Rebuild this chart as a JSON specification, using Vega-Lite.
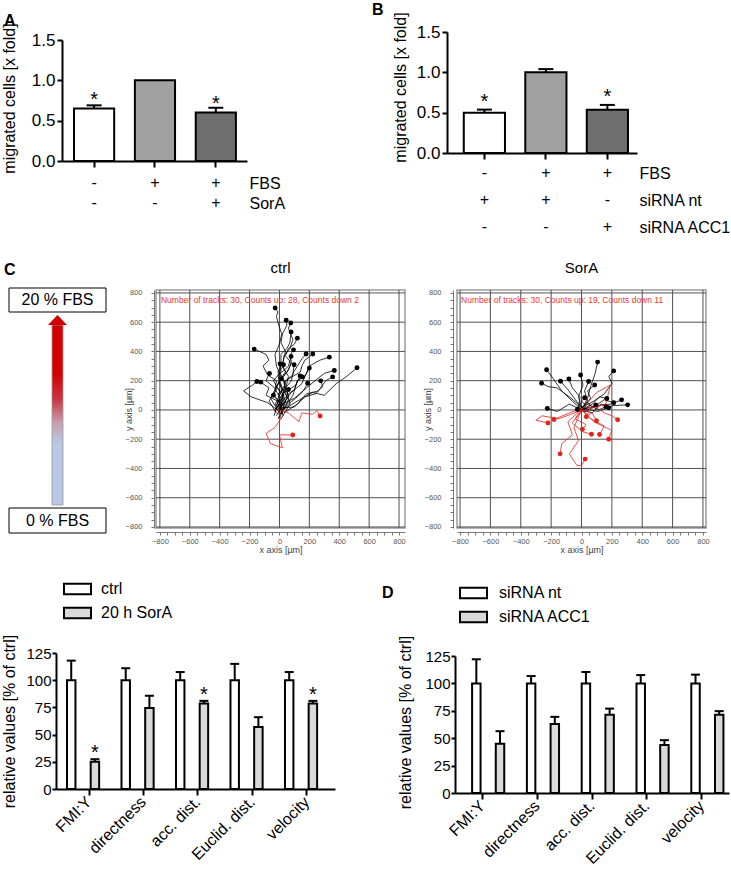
{
"$schema": "https://vega.github.io/schema/vega-lite/v6.json",
"autosize": {"type": "none"},
"padding": {"left": 9, "top": 32, "right": 722, "bottom": 839},
"background": "white",
"columns": 3,
"align": "each",
"bounds": "flush",
"spacing": {"row": 125, "column": 52},
"resolve": {"scale": {"fill": "independent", "color": "independent"}},
"config": {
  "view": {"stroke": null},
  "font": "Liberation Sans",
  "axis": {"grid": false, "labelOverlap": false, "labelFont": "Liberation Sans", "titleFont": "Liberation Sans"},
  "legend": {"labelFont": "Liberation Sans"},
  "text": {"font": "Liberation Sans"},
  "title": {"font": "Liberation Sans"}
},
"datasets": {
  "grid": [{"v":-800},{"v":-600},{"v":-400},{"v":-200},{"v":0},{"v":200},{"v":400},{"v":600},{"v":800}],
  "ctrl": [
{"t":1,"o":0,"x":-5,"y":-30,"d":"up"},{"t":1,"o":1,"x":15,"y":30,"d":"up"},{"t":1,"o":2,"x":-40,"y":100,"d":"up"},{"t":1,"o":3,"x":-15,"y":160,"d":"up"},{"t":1,"o":4,"x":10,"y":230,"d":"up"},{"t":1,"o":5,"x":-20,"y":300,"d":"up"},{"t":1,"o":6,"x":-30,"y":380,"d":"up"},{"t":1,"o":7,"x":0,"y":450,"d":"up"},{"t":1,"o":8,"x":15,"y":520,"d":"up"},{"t":1,"o":9,"x":-5,"y":580,"d":"up"},{"t":1,"o":10,"x":-20,"y":640,"d":"up"},{"t":1,"o":11,"x":-10,"y":670,"d":"up"},{"t":1,"o":12,"x":-29,"y":697,"d":"up","e":1},
{"t":2,"o":0,"x":10,"y":-10,"d":"up"},{"t":2,"o":1,"x":-15,"y":50,"d":"up"},{"t":2,"o":2,"x":30,"y":120,"d":"up"},{"t":2,"o":3,"x":5,"y":190,"d":"up"},{"t":2,"o":4,"x":-10,"y":260,"d":"up"},{"t":2,"o":5,"x":25,"y":330,"d":"up"},{"t":2,"o":6,"x":40,"y":400,"d":"up"},{"t":2,"o":7,"x":10,"y":460,"d":"up"},{"t":2,"o":8,"x":20,"y":520,"d":"up"},{"t":2,"o":9,"x":50,"y":580,"d":"up"},{"t":2,"o":10,"x":45,"y":613,"d":"up","e":1},
{"t":3,"o":0,"x":-20,"y":-40,"d":"up"},{"t":3,"o":1,"x":10,"y":20,"d":"up"},{"t":3,"o":2,"x":20,"y":90,"d":"up"},{"t":3,"o":3,"x":45,"y":160,"d":"up"},{"t":3,"o":4,"x":60,"y":230,"d":"up"},{"t":3,"o":5,"x":20,"y":300,"d":"up"},{"t":3,"o":6,"x":30,"y":370,"d":"up"},{"t":3,"o":7,"x":70,"y":420,"d":"up"},{"t":3,"o":8,"x":90,"y":480,"d":"up"},{"t":3,"o":9,"x":60,"y":560,"d":"up"},{"t":3,"o":10,"x":76,"y":594,"d":"up","e":1},
{"t":4,"o":0,"x":5,"y":0,"d":"up"},{"t":4,"o":1,"x":20,"y":70,"d":"up"},{"t":4,"o":2,"x":-30,"y":140,"d":"up"},{"t":4,"o":3,"x":0,"y":200,"d":"up"},{"t":4,"o":4,"x":40,"y":260,"d":"up"},{"t":4,"o":5,"x":10,"y":320,"d":"up"},{"t":4,"o":6,"x":10,"y":380,"d":"up"},{"t":4,"o":7,"x":50,"y":420,"d":"up"},{"t":4,"o":8,"x":70,"y":460,"d":"up"},{"t":4,"o":9,"x":78,"y":533,"d":"up","e":1},
{"t":5,"o":0,"x":-10,"y":-60,"d":"up"},{"t":5,"o":1,"x":20,"y":0,"d":"up"},{"t":5,"o":2,"x":40,"y":60,"d":"up"},{"t":5,"o":3,"x":15,"y":130,"d":"up"},{"t":5,"o":4,"x":0,"y":200,"d":"up"},{"t":5,"o":5,"x":50,"y":260,"d":"up"},{"t":5,"o":6,"x":80,"y":320,"d":"up"},{"t":5,"o":7,"x":40,"y":370,"d":"up"},{"t":5,"o":8,"x":60,"y":420,"d":"up"},{"t":5,"o":9,"x":100,"y":450,"d":"up"},{"t":5,"o":10,"x":120,"y":491,"d":"up","e":1},
{"t":6,"o":0,"x":0,"y":-20,"d":"up"},{"t":6,"o":1,"x":-30,"y":30,"d":"up"},{"t":6,"o":2,"x":-60,"y":80,"d":"up"},{"t":6,"o":3,"x":-30,"y":140,"d":"up"},{"t":6,"o":4,"x":-20,"y":200,"d":"up"},{"t":6,"o":5,"x":-80,"y":240,"d":"up"},{"t":6,"o":6,"x":-110,"y":300,"d":"up"},{"t":6,"o":7,"x":-70,"y":340,"d":"up"},{"t":6,"o":8,"x":-90,"y":380,"d":"up"},{"t":6,"o":9,"x":-169,"y":416,"d":"up","e":1},
{"t":7,"o":0,"x":15,"y":-30,"d":"up"},{"t":7,"o":1,"x":30,"y":40,"d":"up"},{"t":7,"o":2,"x":60,"y":100,"d":"up"},{"t":7,"o":3,"x":40,"y":160,"d":"up"},{"t":7,"o":4,"x":20,"y":220,"d":"up"},{"t":7,"o":5,"x":60,"y":270,"d":"up"},{"t":7,"o":6,"x":80,"y":330,"d":"up"},{"t":7,"o":7,"x":70,"y":370,"d":"up"},{"t":7,"o":8,"x":94,"y":411,"d":"up","e":1},
{"t":8,"o":0,"x":-15,"y":10,"d":"up"},{"t":8,"o":1,"x":10,"y":60,"d":"up"},{"t":8,"o":2,"x":30,"y":120,"d":"up"},{"t":8,"o":3,"x":0,"y":180,"d":"up"},{"t":8,"o":4,"x":-10,"y":240,"d":"up"},{"t":8,"o":5,"x":30,"y":270,"d":"up"},{"t":8,"o":6,"x":60,"y":300,"d":"up"},{"t":8,"o":7,"x":78,"y":366,"d":"up","e":1},
{"t":9,"o":0,"x":20,"y":-20,"d":"up"},{"t":9,"o":1,"x":5,"y":50,"d":"up"},{"t":9,"o":2,"x":-10,"y":110,"d":"up"},{"t":9,"o":3,"x":40,"y":150,"d":"up"},{"t":9,"o":4,"x":80,"y":200,"d":"up"},{"t":9,"o":5,"x":90,"y":250,"d":"up"},{"t":9,"o":6,"x":120,"y":300,"d":"up"},{"t":9,"o":7,"x":150,"y":350,"d":"up"},{"t":9,"o":8,"x":178,"y":382,"d":"up","e":1},
{"t":10,"o":0,"x":0,"y":-50,"d":"up"},{"t":10,"o":1,"x":30,"y":10,"d":"up"},{"t":10,"o":2,"x":60,"y":70,"d":"up"},{"t":10,"o":3,"x":30,"y":130,"d":"up"},{"t":10,"o":4,"x":40,"y":200,"d":"up"},{"t":10,"o":5,"x":90,"y":230,"d":"up"},{"t":10,"o":6,"x":140,"y":260,"d":"up"},{"t":10,"o":7,"x":150,"y":300,"d":"up"},{"t":10,"o":8,"x":170,"y":340,"d":"up"},{"t":10,"o":9,"x":223,"y":382,"d":"up","e":1},
{"t":11,"o":0,"x":10,"y":20,"d":"up"},{"t":11,"o":1,"x":80,"y":120,"d":"up"},{"t":11,"o":2,"x":150,"y":180,"d":"up"},{"t":11,"o":3,"x":200,"y":300,"d":"up"},{"t":11,"o":4,"x":270,"y":340,"d":"up"},{"t":11,"o":5,"x":334,"y":361,"d":"up","e":1},
{"t":12,"o":0,"x":-30,"y":-10,"d":"up"},{"t":12,"o":1,"x":20,"y":90,"d":"up"},{"t":12,"o":2,"x":-40,"y":200,"d":"up"},{"t":12,"o":3,"x":10,"y":260,"d":"up"},{"t":12,"o":4,"x":4,"y":315,"d":"up","e":1},
{"t":13,"o":0,"x":25,"y":-40,"d":"up"},{"t":13,"o":1,"x":-10,"y":80,"d":"up"},{"t":13,"o":2,"x":40,"y":180,"d":"up"},{"t":13,"o":3,"x":0,"y":260,"d":"up"},{"t":13,"o":4,"x":27,"y":309,"d":"up","e":1},
{"t":14,"o":0,"x":-5,"y":-10,"d":"up"},{"t":14,"o":1,"x":50,"y":80,"d":"up"},{"t":14,"o":2,"x":30,"y":190,"d":"up"},{"t":14,"o":3,"x":90,"y":240,"d":"up"},{"t":14,"o":4,"x":98,"y":309,"d":"up","e":1},
{"t":15,"o":0,"x":30,"y":10,"d":"up"},{"t":15,"o":1,"x":90,"y":100,"d":"up"},{"t":15,"o":2,"x":120,"y":200,"d":"up"},{"t":15,"o":3,"x":170,"y":230,"d":"up"},{"t":15,"o":4,"x":200,"y":286,"d":"up","e":1},
{"t":16,"o":0,"x":0,"y":30,"d":"up"},{"t":16,"o":1,"x":100,"y":80,"d":"up"},{"t":16,"o":2,"x":180,"y":150,"d":"up"},{"t":16,"o":3,"x":250,"y":210,"d":"up"},{"t":16,"o":4,"x":300,"y":250,"d":"up"},{"t":16,"o":5,"x":367,"y":270,"d":"up","e":1},
{"t":17,"o":0,"x":20,"y":0,"d":"up"},{"t":17,"o":1,"x":120,"y":60,"d":"up"},{"t":17,"o":2,"x":220,"y":120,"d":"up"},{"t":17,"o":3,"x":300,"y":100,"d":"up"},{"t":17,"o":4,"x":380,"y":180,"d":"up"},{"t":17,"o":5,"x":450,"y":230,"d":"up"},{"t":17,"o":6,"x":519,"y":288,"d":"up","e":1},
{"t":18,"o":0,"x":-20,"y":-20,"d":"up"},{"t":18,"o":1,"x":-70,"y":60,"d":"up"},{"t":18,"o":2,"x":-20,"y":140,"d":"up"},{"t":18,"o":3,"x":-90,"y":200,"d":"up"},{"t":18,"o":4,"x":-67,"y":249,"d":"up","e":1},
{"t":19,"o":0,"x":10,"y":-60,"d":"up"},{"t":19,"o":1,"x":70,"y":40,"d":"up"},{"t":19,"o":2,"x":50,"y":130,"d":"up"},{"t":19,"o":3,"x":110,"y":170,"d":"up"},{"t":19,"o":4,"x":138,"y":233,"d":"up","e":1},
{"t":20,"o":0,"x":-10,"y":20,"d":"up"},{"t":20,"o":1,"x":60,"y":110,"d":"up"},{"t":20,"o":2,"x":100,"y":140,"d":"up"},{"t":20,"o":3,"x":120,"y":200,"d":"up"},{"t":20,"o":4,"x":154,"y":226,"d":"up","e":1},
{"t":21,"o":0,"x":30,"y":-20,"d":"up"},{"t":21,"o":1,"x":120,"y":40,"d":"up"},{"t":21,"o":2,"x":180,"y":110,"d":"up"},{"t":21,"o":3,"x":260,"y":130,"d":"up"},{"t":21,"o":4,"x":310,"y":200,"d":"up"},{"t":21,"o":5,"x":356,"y":226,"d":"up","e":1},
{"t":22,"o":0,"x":-25,"y":30,"d":"up"},{"t":22,"o":1,"x":30,"y":100,"d":"up"},{"t":22,"o":2,"x":-20,"y":160,"d":"up"},{"t":22,"o":3,"x":13,"y":213,"d":"up","e":1},
{"t":23,"o":0,"x":0,"y":-10,"d":"up"},{"t":23,"o":1,"x":-80,"y":50,"d":"up"},{"t":23,"o":2,"x":-190,"y":90,"d":"up"},{"t":23,"o":3,"x":-240,"y":130,"d":"up"},{"t":23,"o":4,"x":-180,"y":170,"d":"up"},{"t":23,"o":5,"x":-151,"y":194,"d":"up","e":1},
{"t":24,"o":0,"x":-35,"y":-40,"d":"up"},{"t":24,"o":1,"x":-10,"y":60,"d":"up"},{"t":24,"o":2,"x":-90,"y":100,"d":"up"},{"t":24,"o":3,"x":-70,"y":150,"d":"up"},{"t":24,"o":4,"x":-125,"y":190,"d":"up","e":1},
{"t":25,"o":0,"x":15,"y":15,"d":"up"},{"t":25,"o":1,"x":100,"y":20,"d":"up"},{"t":25,"o":2,"x":170,"y":90,"d":"up"},{"t":25,"o":3,"x":240,"y":110,"d":"up"},{"t":25,"o":4,"x":290,"y":160,"d":"up"},{"t":25,"o":5,"x":276,"y":199,"d":"up","e":1},
{"t":26,"o":0,"x":0,"y":-30,"d":"up"},{"t":26,"o":1,"x":60,"y":40,"d":"up"},{"t":26,"o":2,"x":120,"y":90,"d":"up"},{"t":26,"o":3,"x":160,"y":130,"d":"up"},{"t":26,"o":4,"x":189,"y":183,"d":"up","e":1},
{"t":27,"o":0,"x":-5,"y":5,"d":"up"},{"t":27,"o":1,"x":30,"y":60,"d":"up"},{"t":27,"o":2,"x":20,"y":110,"d":"up"},{"t":27,"o":3,"x":60,"y":140,"d":"up","e":1},
{"t":28,"o":0,"x":10,"y":-10,"d":"up"},{"t":28,"o":1,"x":-30,"y":40,"d":"up"},{"t":28,"o":2,"x":-10,"y":70,"d":"up"},{"t":28,"o":3,"x":-40,"y":100,"d":"up","e":1},
{"t":29,"o":0,"x":0,"y":0,"d":"down"},{"t":29,"o":1,"x":60,"y":-20,"d":"down"},{"t":29,"o":2,"x":130,"y":-80,"d":"down"},{"t":29,"o":3,"x":150,"y":-20,"d":"down"},{"t":29,"o":4,"x":220,"y":-30,"d":"down"},{"t":29,"o":5,"x":250,"y":-5,"d":"down"},{"t":29,"o":6,"x":272,"y":-41,"d":"down","e":1},
{"t":30,"o":0,"x":-10,"y":10,"d":"down"},{"t":30,"o":1,"x":10,"y":-60,"d":"down"},{"t":30,"o":2,"x":-30,"y":-120,"d":"down"},{"t":30,"o":3,"x":-90,"y":-160,"d":"down"},{"t":30,"o":4,"x":-60,"y":-230,"d":"down"},{"t":30,"o":5,"x":20,"y":-260,"d":"down"},{"t":30,"o":6,"x":0,"y":-170,"d":"down"},{"t":30,"o":7,"x":89,"y":-171,"d":"down","e":1}
  ],
  "sora": [
{"t":1,"o":0,"x":0,"y":0,"d":"up"},{"t":1,"o":1,"x":40,"y":80,"d":"up"},{"t":1,"o":2,"x":60,"y":160,"d":"up"},{"t":1,"o":3,"x":90,"y":250,"d":"up"},{"t":1,"o":4,"x":106,"y":327,"d":"up","e":1},
{"t":2,"o":0,"x":10,"y":-10,"d":"up"},{"t":2,"o":1,"x":-60,"y":60,"d":"up"},{"t":2,"o":2,"x":-130,"y":130,"d":"up"},{"t":2,"o":3,"x":-190,"y":220,"d":"up"},{"t":2,"o":4,"x":-230,"y":275,"d":"up","e":1},
{"t":3,"o":0,"x":-10,"y":10,"d":"up"},{"t":3,"o":1,"x":80,"y":60,"d":"up"},{"t":3,"o":2,"x":150,"y":110,"d":"up"},{"t":3,"o":3,"x":200,"y":180,"d":"up"},{"t":3,"o":4,"x":180,"y":230,"d":"up"},{"t":3,"o":5,"x":212,"y":267,"d":"up","e":1},
{"t":4,"o":0,"x":0,"y":20,"d":"up"},{"t":4,"o":1,"x":-80,"y":90,"d":"up"},{"t":4,"o":2,"x":-160,"y":150,"d":"up"},{"t":4,"o":3,"x":-220,"y":160,"d":"up"},{"t":4,"o":4,"x":-263,"y":183,"d":"up","e":1},
{"t":5,"o":0,"x":20,"y":-5,"d":"up"},{"t":5,"o":1,"x":-40,"y":70,"d":"up"},{"t":5,"o":2,"x":-90,"y":140,"d":"up"},{"t":5,"o":3,"x":-138,"y":196,"d":"up","e":1},
{"t":6,"o":0,"x":-20,"y":0,"d":"up"},{"t":6,"o":1,"x":-10,"y":90,"d":"up"},{"t":6,"o":2,"x":-60,"y":150,"d":"up"},{"t":6,"o":3,"x":-83,"y":212,"d":"up","e":1},
{"t":7,"o":0,"x":5,"y":5,"d":"up"},{"t":7,"o":1,"x":-20,"y":90,"d":"up"},{"t":7,"o":2,"x":10,"y":170,"d":"up"},{"t":7,"o":3,"x":-6,"y":239,"d":"up","e":1},
{"t":8,"o":0,"x":-10,"y":-10,"d":"up"},{"t":8,"o":1,"x":40,"y":60,"d":"up"},{"t":8,"o":2,"x":20,"y":130,"d":"up"},{"t":8,"o":3,"x":47,"y":194,"d":"up","e":1},
{"t":9,"o":0,"x":10,"y":10,"d":"up"},{"t":9,"o":1,"x":60,"y":80,"d":"up"},{"t":9,"o":2,"x":40,"y":130,"d":"up"},{"t":9,"o":3,"x":87,"y":171,"d":"up","e":1},
{"t":10,"o":0,"x":-5,"y":-20,"d":"up"},{"t":10,"o":1,"x":30,"y":30,"d":"up"},{"t":10,"o":2,"x":0,"y":60,"d":"up"},{"t":10,"o":3,"x":21,"y":83,"d":"up","e":1},
{"t":11,"o":0,"x":0,"y":0,"d":"up"},{"t":11,"o":1,"x":70,"y":40,"d":"up"},{"t":11,"o":2,"x":120,"y":90,"d":"up"},{"t":11,"o":3,"x":167,"y":78,"d":"up","e":1},
{"t":12,"o":0,"x":15,"y":-15,"d":"up"},{"t":12,"o":1,"x":100,"y":30,"d":"up"},{"t":12,"o":2,"x":190,"y":40,"d":"up"},{"t":12,"o":3,"x":264,"y":69,"d":"up","e":1},
{"t":13,"o":0,"x":0,"y":10,"d":"up"},{"t":13,"o":1,"x":110,"y":-10,"d":"up"},{"t":13,"o":2,"x":210,"y":30,"d":"up"},{"t":13,"o":3,"x":304,"y":35,"d":"up","e":1},
{"t":14,"o":0,"x":-15,"y":0,"d":"up"},{"t":14,"o":1,"x":80,"y":20,"d":"up"},{"t":14,"o":2,"x":150,"y":70,"d":"up"},{"t":14,"o":3,"x":212,"y":49,"d":"up","e":1},
{"t":15,"o":0,"x":5,"y":-5,"d":"up"},{"t":15,"o":1,"x":60,"y":30,"d":"up"},{"t":15,"o":2,"x":110,"y":0,"d":"up"},{"t":15,"o":3,"x":161,"y":21,"d":"up","e":1},
{"t":16,"o":0,"x":-10,"y":5,"d":"up"},{"t":16,"o":1,"x":70,"y":-20,"d":"up"},{"t":16,"o":2,"x":130,"y":40,"d":"up"},{"t":16,"o":3,"x":179,"y":15,"d":"up","e":1},
{"t":17,"o":0,"x":0,"y":0,"d":"up"},{"t":17,"o":1,"x":-80,"y":40,"d":"up"},{"t":17,"o":2,"x":-160,"y":-10,"d":"up"},{"t":17,"o":3,"x":-225,"y":10,"d":"up","e":1},
{"t":18,"o":0,"x":10,"y":-10,"d":"up"},{"t":18,"o":1,"x":-20,"y":30,"d":"up"},{"t":18,"o":2,"x":-27,"y":3,"d":"up","e":1},
{"t":19,"o":0,"x":0,"y":15,"d":"up"},{"t":19,"o":1,"x":40,"y":50,"d":"up"},{"t":19,"o":2,"x":70,"y":20,"d":"up"},{"t":19,"o":3,"x":94,"y":35,"d":"up","e":1},
{"t":20,"o":0,"x":0,"y":0,"d":"down"},{"t":20,"o":1,"x":-70,"y":-30,"d":"down"},{"t":20,"o":2,"x":-150,"y":-60,"d":"down"},{"t":20,"o":3,"x":-260,"y":-40,"d":"down"},{"t":20,"o":4,"x":-300,"y":-70,"d":"down"},{"t":20,"o":5,"x":-221,"y":-89,"d":"down","e":1},
{"t":21,"o":0,"x":10,"y":-10,"d":"down"},{"t":21,"o":1,"x":80,"y":30,"d":"down"},{"t":21,"o":2,"x":150,"y":-20,"d":"down"},{"t":21,"o":3,"x":200,"y":-40,"d":"down"},{"t":21,"o":4,"x":238,"y":-67,"d":"down","e":1},
{"t":22,"o":0,"x":-10,"y":10,"d":"down"},{"t":22,"o":1,"x":40,"y":-40,"d":"down"},{"t":22,"o":2,"x":70,"y":-20,"d":"down"},{"t":22,"o":3,"x":99,"y":-74,"d":"down","e":1},
{"t":23,"o":0,"x":5,"y":5,"d":"down"},{"t":23,"o":1,"x":100,"y":120,"d":"down"},{"t":23,"o":2,"x":190,"y":170,"d":"down"},{"t":23,"o":3,"x":160,"y":40,"d":"down"},{"t":23,"o":4,"x":60,"y":10,"d":"down"},{"t":23,"o":5,"x":32,"y":-46,"d":"down","e":1},
{"t":24,"o":0,"x":0,"y":-10,"d":"down"},{"t":24,"o":1,"x":-40,"y":-60,"d":"down"},{"t":24,"o":2,"x":30,"y":-100,"d":"down"},{"t":24,"o":3,"x":6,"y":-132,"d":"down","e":1},
{"t":25,"o":0,"x":-5,"y":0,"d":"down"},{"t":25,"o":1,"x":-60,"y":-90,"d":"down"},{"t":25,"o":2,"x":10,"y":-150,"d":"down"},{"t":25,"o":3,"x":66,"y":-166,"d":"down","e":1},
{"t":26,"o":0,"x":10,"y":0,"d":"down"},{"t":26,"o":1,"x":60,"y":-60,"d":"down"},{"t":26,"o":2,"x":150,"y":-110,"d":"down"},{"t":26,"o":3,"x":119,"y":-168,"d":"down","e":1},
{"t":27,"o":0,"x":0,"y":5,"d":"down"},{"t":27,"o":1,"x":80,"y":-80,"d":"down"},{"t":27,"o":2,"x":200,"y":-140,"d":"down"},{"t":27,"o":3,"x":179,"y":-200,"d":"down","e":1},
{"t":28,"o":0,"x":-10,"y":-5,"d":"down"},{"t":28,"o":1,"x":-90,"y":-80,"d":"down"},{"t":28,"o":2,"x":-60,"y":-170,"d":"down"},{"t":28,"o":3,"x":-130,"y":-230,"d":"down"},{"t":28,"o":4,"x":-141,"y":-300,"d":"down","e":1},
{"t":29,"o":0,"x":0,"y":0,"d":"down"},{"t":29,"o":1,"x":-50,"y":-120,"d":"down"},{"t":29,"o":2,"x":-20,"y":-210,"d":"down"},{"t":29,"o":3,"x":-80,"y":-300,"d":"down"},{"t":29,"o":4,"x":-30,"y":-380,"d":"down"},{"t":29,"o":5,"x":0,"y":-380,"d":"down"},{"t":29,"o":6,"x":24,"y":-336,"d":"down","e":1},
{"t":30,"o":0,"x":5,"y":10,"d":"down"},{"t":30,"o":1,"x":-80,"y":-20,"d":"down"},{"t":30,"o":2,"x":-181,"y":-65,"d":"down","e":1}
  ]
},
"concat": [
{
  "width": 1, "height": 133,
  "data": {"values": []},
  "mark": "point"
},
{
  "width": 91, "height": 129,
  "title": {"text": "A", "anchor": "start", "frame": "group", "dx": -152, "offset": -19, "fontSize": 16, "fontWeight": "bold", "baseline": "alphabetic", "color": "black"},
  "layer": [
    {
      "data": {"values": [
        {"cond": "1", "value": 0.65, "upper": 0.69, "star": 0.82},
        {"cond": "2", "value": 1.0},
        {"cond": "3", "value": 0.60, "upper": 0.66, "star": 0.765}
      ]},
      "layer": [
        {"mark": {"type": "bar", "stroke": "black", "strokeWidth": 2},
         "encoding": {
           "x": {"field": "cond", "type": "nominal", "title": null, "scale": {"range": [-94, 91], "paddingInner": 0.34, "paddingOuter": 0.19, "align": 0.52}, "axis": {"labels": false, "tickSize": 6, "tickWidth": 2, "tickColor": "black", "domainColor": "black", "domainWidth": 2}},
           "y": {"field": "value", "type": "quantitative", "title": "migrated cells [x fold]", "scale": {"domain": [0, 1.5], "range": [129, 8], "nice": false}, "axis": {"values": [0, 0.5, 1, 1.5], "tickCount": 20, "format": ".1f", "offset": 94, "tickSize": 5, "tickWidth": 2, "tickColor": "black", "domainColor": "black", "domainWidth": 2, "labelFontSize": 17, "labelColor": "black", "labelPadding": 2, "titleFontSize": 16, "titleFontWeight": "normal", "titleColor": "black", "titleX": -45, "titleY": 66, "labelFlush": false}},
           "fill": {"field": "cond", "type": "nominal", "scale": {"domain": ["1", "2", "3"], "range": ["#ffffff", "#a1a1a1", "#6f6f6f"]}, "legend": null}
         }},
        {"transform": [{"filter": "datum.upper != null"}],
         "mark": {"type": "rule", "color": "black", "strokeWidth": 2},
         "encoding": {"x": {"field": "cond", "type": "nominal", "title": null}, "y": {"field": "value", "type": "quantitative", "title": "migrated cells [x fold]"}, "y2": {"field": "upper"}}},
        {"transform": [{"filter": "datum.upper != null"}],
         "mark": {"type": "tick", "orient": "horizontal", "size": 15, "thickness": 2, "color": "black", "opacity": 1},
         "encoding": {"x": {"field": "cond", "type": "nominal", "title": null}, "y": {"field": "upper", "type": "quantitative", "title": "migrated cells [x fold]"}}},
        {"transform": [{"filter": "datum.star != null"}],
         "mark": {"type": "text", "text": "*", "fontSize": 20, "dy": 11, "baseline": "alphabetic", "color": "black"},
         "encoding": {"x": {"field": "cond", "type": "nominal", "title": null}, "y": {"field": "star", "type": "quantitative", "title": "migrated cells [x fold]"}}}
      ]
    },
    {
      "data": {"values": [
        {"cond": "1", "row": "FBS", "sign": "-"}, {"cond": "2", "row": "FBS", "sign": "+"}, {"cond": "3", "row": "FBS", "sign": "+"},
        {"cond": "1", "row": "SorA", "sign": "-"}, {"cond": "2", "row": "SorA", "sign": "-"}, {"cond": "3", "row": "SorA", "sign": "+"}
      ]},
      "mark": {"type": "text", "fontSize": 16, "color": "black"},
      "encoding": {
        "x": {"field": "cond", "type": "nominal", "title": null},
        "y": {"field": "row", "type": "ordinal", "sort": ["FBS", "SorA"], "scale": {"type": "point", "range": [151, 171], "padding": 0}, "axis": {"orient": "right", "title": null, "domain": false, "ticks": false, "labelPadding": 2, "labelFontSize": 16, "labelColor": "black"}},
        "text": {"field": "sign"}
      }
    }
  ],
  "resolve": {"scale": {"y": "independent"}, "axis": {"y": "independent"}}
},
{
  "width": 180, "height": 121,
  "title": {"text": "B", "anchor": "start", "frame": "group", "dx": -85, "offset": -19, "fontSize": 16, "fontWeight": "bold", "baseline": "alphabetic", "color": "black"},
  "layer": [
    {
      "data": {"values": [
        {"cond": "1", "value": 0.50, "upper": 0.538, "star": 0.69},
        {"cond": "2", "value": 1.0, "upper": 1.04},
        {"cond": "3", "value": 0.535, "upper": 0.596, "star": 0.752}
      ]},
      "layer": [
        {"mark": {"type": "bar", "stroke": "black", "strokeWidth": 2},
         "encoding": {
           "x": {"field": "cond", "type": "nominal", "title": null, "scale": {"range": [-10, 180], "paddingInner": 0.33, "paddingOuter": 0.21, "align": 0.65}, "axis": {"labels": false, "tickSize": 6, "tickWidth": 2, "tickColor": "black", "domainColor": "black", "domainWidth": 2}},
           "y": {"field": "value", "type": "quantitative", "title": "migrated cells [x fold]", "scale": {"domain": [0, 1.5], "nice": false}, "axis": {"values": [0, 0.5, 1, 1.5], "tickCount": 20, "format": ".1f", "offset": 10, "tickSize": 5, "tickWidth": 2, "tickColor": "black", "domainColor": "black", "domainWidth": 2, "labelFontSize": 17, "labelColor": "black", "labelPadding": 2, "titleFontSize": 16, "titleFontWeight": "normal", "titleColor": "black", "titleX": -39, "titleY": 55, "labelFlush": false}},
           "fill": {"field": "cond", "type": "nominal", "scale": {"domain": ["1", "2", "3"], "range": ["#ffffff", "#a1a1a1", "#6f6f6f"]}, "legend": null}
         }},
        {"transform": [{"filter": "datum.upper != null"}],
         "mark": {"type": "rule", "color": "black", "strokeWidth": 2},
         "encoding": {"x": {"field": "cond", "type": "nominal", "title": null}, "y": {"field": "value", "type": "quantitative", "title": "migrated cells [x fold]"}, "y2": {"field": "upper"}}},
        {"transform": [{"filter": "datum.upper != null"}],
         "mark": {"type": "tick", "orient": "horizontal", "size": 15, "thickness": 2, "color": "black", "opacity": 1},
         "encoding": {"x": {"field": "cond", "type": "nominal", "title": null}, "y": {"field": "upper", "type": "quantitative", "title": "migrated cells [x fold]"}}},
        {"transform": [{"filter": "datum.star != null"}],
         "mark": {"type": "text", "text": "*", "fontSize": 20, "dy": 11, "baseline": "alphabetic", "color": "black"},
         "encoding": {"x": {"field": "cond", "type": "nominal", "title": null}, "y": {"field": "star", "type": "quantitative", "title": "migrated cells [x fold]"}}}
      ]
    },
    {
      "data": {"values": [
        {"cond": "1", "row": "FBS", "sign": "-"}, {"cond": "2", "row": "FBS", "sign": "+"}, {"cond": "3", "row": "FBS", "sign": "+"},
        {"cond": "1", "row": "siRNA nt", "sign": "+"}, {"cond": "2", "row": "siRNA nt", "sign": "+"}, {"cond": "3", "row": "siRNA nt", "sign": "-"},
        {"cond": "1", "row": "siRNA ACC1", "sign": "-"}, {"cond": "2", "row": "siRNA ACC1", "sign": "-"}, {"cond": "3", "row": "siRNA ACC1", "sign": "+"}
      ]},
      "mark": {"type": "text", "fontSize": 16, "color": "black"},
      "encoding": {
        "x": {"field": "cond", "type": "nominal", "title": null},
        "y": {"field": "row", "type": "ordinal", "sort": ["FBS", "siRNA nt", "siRNA ACC1"], "scale": {"type": "point", "range": [141, 195], "padding": 0}, "axis": {"orient": "right", "title": null, "domain": false, "ticks": false, "labelPadding": 2, "labelFontSize": 16, "labelColor": "black"}},
        "text": {"field": "sign"}
      }
    }
  ],
  "resolve": {"scale": {"y": "independent"}, "axis": {"y": "independent"}}
},
{
  "width": 95, "height": 220,
  "title": {"text": "C", "anchor": "start", "frame": "group", "dx": -5, "offset": -3.5, "fontSize": 16, "fontWeight": "bold", "baseline": "alphabetic", "color": "black"},
  "data": {"values": [
    {"part": "box", "x1": 0, "x2": 97, "y1": 0, "y2": 24, "label": "20 % FBS", "lx": 48.5, "ly": 12},
    {"part": "box", "x1": 0, "x2": 97, "y1": 220, "y2": 245, "label": "0 % FBS", "lx": 48.5, "ly": 232.5},
    {"part": "shaft", "x1": 43, "x2": 54, "y1": 37, "y2": 217},
    {"part": "head", "lx": 48.5, "ly": 32}
  ]},
  "layer": [
    {"transform": [{"filter": "datum.part == 'box'"}],
     "mark": {"type": "rect", "fill": "white", "stroke": "black", "strokeWidth": 1},
     "encoding": {
       "x": {"field": "x1", "type": "quantitative", "scale": {"domain": [0, 97], "range": [0, 97], "nice": false, "zero": false}, "axis": null},
       "x2": {"field": "x2"},
       "y": {"field": "y1", "type": "quantitative", "scale": {"domain": [0, 245], "range": [-2, 243], "nice": false, "zero": false}, "axis": null},
       "y2": {"field": "y2"}
     }},
    {"transform": [{"filter": "datum.part == 'shaft'"}],
     "mark": {"type": "rect", "stroke": "#9a9a9a", "strokeWidth": 0.8,
       "fill": {"gradient": "linear", "x1": 0, "y1": 0, "x2": 0, "y2": 1, "stops": [
         {"offset": 0, "color": "#d40000"}, {"offset": 0.27, "color": "#d40000"}, {"offset": 0.42, "color": "#c93a48"},
         {"offset": 0.55, "color": "#c9a2b2"}, {"offset": 0.66, "color": "#b8c8e5"}, {"offset": 1, "color": "#b8c9e6"}]}},
     "encoding": {
       "x": {"field": "x1", "type": "quantitative"},
       "x2": {"field": "x2"},
       "y": {"field": "y1", "type": "quantitative"},
       "y2": {"field": "y2"}
     }},
    {"transform": [{"filter": "datum.part == 'head'"}],
     "mark": {"type": "point", "shape": "M0,-0.53L1,0.53L-1,0.53Z", "size": 361, "filled": true, "color": "#d40000", "opacity": 1},
     "encoding": {"x": {"field": "lx", "type": "quantitative"}, "y": {"field": "ly", "type": "quantitative"}}},
    {"transform": [{"filter": "datum.part == 'box'"}],
     "mark": {"type": "text", "fontSize": 16, "color": "black", "baseline": "middle", "align": "center"},
     "encoding": {"x": {"field": "lx", "type": "quantitative"}, "y": {"field": "ly", "type": "quantitative"}, "text": {"field": "label"}}}
  ]
},
{
  "width": 249, "height": 238,
  "view": {"stroke": "#9b9b9b", "strokeWidth": 1.5},
  "title": {"text": "ctrl", "fontSize": 15, "fontWeight": "normal", "anchor": "middle", "frame": "group", "offset": 1, "baseline": "alphabetic", "color": "black"},
  "layer": [
    {"data": {"name": "grid"},
     "mark": {"type": "rule", "color": "#505050", "strokeWidth": 1},
     "encoding": {"x": {"field": "v", "type": "quantitative", "scale": {"domain": [-826, 840], "nice": false, "zero": false},
       "axis": {"title": "x axis [µm]", "values": [-800,-750,-700,-650,-600,-550,-500,-450,-400,-350,-300,-250,-200,-150,-100,-50,0,50,100,150,200,250,300,350,400,450,500,550,600,650,700,750,800], "tickCount": 100, "labelExpr": "datum.value % 200 === 0 ? datum.label : ''", "offset": 4, "tickSize": 3, "tickColor": "#777", "domainColor": "#777", "labelFontSize": 7.5, "labelColor": "#555", "labelPadding": 2, "titleFontSize": 9, "titleColor": "#444", "titleFontWeight": "normal", "titlePadding": 1, "labelFlush": false, "labelOverlap": false}}}},
    {"data": {"name": "grid"},
     "mark": {"type": "rule", "color": "#505050", "strokeWidth": 1},
     "encoding": {"y": {"field": "v", "type": "quantitative", "scale": {"domain": [-807, 820], "nice": false, "zero": false},
       "axis": {"title": "y axis [µm]", "values": [-800,-750,-700,-650,-600,-550,-500,-450,-400,-350,-300,-250,-200,-150,-100,-50,0,50,100,150,200,250,300,350,400,450,500,550,600,650,700,750,800], "tickCount": 100, "labelExpr": "datum.value % 200 === 0 ? datum.label : ''", "offset": 2, "tickSize": 3, "tickColor": "#777", "domainColor": "#777", "labelFontSize": 7.5, "labelColor": "#555", "labelPadding": 9, "titleFontSize": 9, "titleColor": "#444", "titleFontWeight": "normal", "titleX": -21, "labelFlush": false, "labelOverlap": false}}}},
    {"data": {"name": "ctrl"},
     "mark": {"type": "line", "strokeWidth": 0.8},
     "encoding": {
       "x": {"field": "x", "type": "quantitative", "title": "x axis [µm]"},
       "y": {"field": "y", "type": "quantitative", "title": "y axis [µm]"},
       "detail": {"field": "t", "type": "nominal"},
       "order": {"field": "o", "type": "quantitative"},
       "color": {"field": "d", "type": "nominal", "scale": {"domain": ["up", "down"], "range": ["#000000", "#e3241d"]}, "legend": null}
     }},
    {"data": {"name": "ctrl"},
     "transform": [{"filter": "datum.e == 1"}],
     "mark": {"type": "point", "filled": true, "size": 24, "opacity": 1},
     "encoding": {
       "x": {"field": "x", "type": "quantitative", "title": "x axis [µm]"},
       "y": {"field": "y", "type": "quantitative", "title": "y axis [µm]"},
       "color": {"field": "d", "type": "nominal", "scale": {"domain": ["up", "down"], "range": ["#000000", "#e3241d"]}, "legend": null}
     }},
    {"data": {"values": [{"x": -793, "y": 752, "s": "Number of tracks: 30, Counts up: 28, Counts down 2"}]},
     "mark": {"type": "text", "align": "left", "baseline": "middle", "fontSize": 8.5, "color": "#e8362f"},
     "encoding": {"x": {"field": "x", "type": "quantitative", "title": "x axis [µm]"}, "y": {"field": "y", "type": "quantitative", "title": "y axis [µm]"}, "text": {"field": "s"}}}
  ]
},
{
  "width": 249, "height": 238,
  "view": {"stroke": "#9b9b9b", "strokeWidth": 1.5},
  "title": {"text": "SorA", "fontSize": 15, "fontWeight": "normal", "anchor": "middle", "frame": "group", "offset": 1, "baseline": "alphabetic", "color": "black"},
  "layer": [
    {"data": {"name": "grid"},
     "mark": {"type": "rule", "color": "#505050", "strokeWidth": 1},
     "encoding": {"x": {"field": "v", "type": "quantitative", "scale": {"domain": [-820, 820], "nice": false, "zero": false},
       "axis": {"title": "x axis [µm]", "values": [-800,-750,-700,-650,-600,-550,-500,-450,-400,-350,-300,-250,-200,-150,-100,-50,0,50,100,150,200,250,300,350,400,450,500,550,600,650,700,750,800], "tickCount": 100, "labelExpr": "datum.value % 200 === 0 ? datum.label : ''", "offset": 4, "tickSize": 3, "tickColor": "#777", "domainColor": "#777", "labelFontSize": 7.5, "labelColor": "#555", "labelPadding": 2, "titleFontSize": 9, "titleColor": "#444", "titleFontWeight": "normal", "titlePadding": 1, "labelFlush": false, "labelOverlap": false}}}},
    {"data": {"name": "grid"},
     "mark": {"type": "rule", "color": "#505050", "strokeWidth": 1},
     "encoding": {"y": {"field": "v", "type": "quantitative", "scale": {"domain": [-807, 820], "nice": false, "zero": false},
       "axis": {"title": "y axis [µm]", "values": [-800,-750,-700,-650,-600,-550,-500,-450,-400,-350,-300,-250,-200,-150,-100,-50,0,50,100,150,200,250,300,350,400,450,500,550,600,650,700,750,800], "tickCount": 100, "labelExpr": "datum.value % 200 === 0 ? datum.label : ''", "offset": 4, "tickSize": 3, "tickColor": "#777", "domainColor": "#777", "labelFontSize": 7.5, "labelColor": "#555", "labelPadding": 9, "titleFontSize": 9, "titleColor": "#444", "titleFontWeight": "normal", "titleX": -21, "labelFlush": false, "labelOverlap": false}}}},
    {"data": {"name": "sora"},
     "mark": {"type": "line", "strokeWidth": 0.8},
     "encoding": {
       "x": {"field": "x", "type": "quantitative", "title": "x axis [µm]"},
       "y": {"field": "y", "type": "quantitative", "title": "y axis [µm]"},
       "detail": {"field": "t", "type": "nominal"},
       "order": {"field": "o", "type": "quantitative"},
       "color": {"field": "d", "type": "nominal", "scale": {"domain": ["up", "down"], "range": ["#000000", "#e3241d"]}, "legend": null}
     }},
    {"data": {"name": "sora"},
     "transform": [{"filter": "datum.e == 1"}],
     "mark": {"type": "point", "filled": true, "size": 24, "opacity": 1},
     "encoding": {
       "x": {"field": "x", "type": "quantitative", "title": "x axis [µm]"},
       "y": {"field": "y", "type": "quantitative", "title": "y axis [µm]"},
       "color": {"field": "d", "type": "nominal", "scale": {"domain": ["up", "down"], "range": ["#000000", "#e3241d"]}, "legend": null}
     }},
    {"data": {"values": [{"x": -793, "y": 752, "s": "Number of tracks: 30, Counts up: 19, Counts down 11"}]},
     "mark": {"type": "text", "align": "left", "baseline": "middle", "fontSize": 8.5, "color": "#e8362f"},
     "encoding": {"x": {"field": "x", "type": "quantitative", "title": "x axis [µm]"}, "y": {"field": "y", "type": "quantitative", "title": "y axis [µm]"}, "text": {"field": "s"}}}
  ]
},
{
  "width": 1, "height": 1,
  "data": {"values": []},
  "mark": "point"
},
{
  "width": 179, "height": 136,
  "data": {"values": [
    {"cat": "FMI:Y", "grp": "ctrl", "value": 100, "upper": 118},
    {"cat": "FMI:Y", "grp": "20 h SorA", "value": 25, "upper": 27.4, "star": 37.5},
    {"cat": "directness", "grp": "ctrl", "value": 100, "upper": 111},
    {"cat": "directness", "grp": "20 h SorA", "value": 74.5, "upper": 85.7},
    {"cat": "acc. dist.", "grp": "ctrl", "value": 100, "upper": 107.5},
    {"cat": "acc. dist.", "grp": "20 h SorA", "value": 78.5, "upper": 81, "star": 91},
    {"cat": "Euclid. dist.", "grp": "ctrl", "value": 100, "upper": 115},
    {"cat": "Euclid. dist.", "grp": "20 h SorA", "value": 57, "upper": 66},
    {"cat": "velocity", "grp": "ctrl", "value": 100, "upper": 107.5},
    {"cat": "velocity", "grp": "20 h SorA", "value": 78.5, "upper": 81, "star": 91}
  ]},
  "encoding": {
    "x": {"field": "cat", "type": "nominal", "sort": ["FMI:Y", "directness", "acc. dist.", "Euclid. dist.", "velocity"], "title": null,
      "scale": {"range": [-100, 179], "paddingInner": 0, "paddingOuter": 0.06, "align": 0.88},
      "axis": {"labelAngle": -45, "labelAlign": "right", "labelBaseline": "middle", "labelFontSize": 16, "labelColor": "black", "labelPadding": 4, "tickSize": 6, "tickWidth": 2, "tickColor": "black", "domainColor": "black", "domainWidth": 2}},
    "xOffset": {"field": "grp", "type": "nominal", "sort": ["ctrl", "20 h SorA"], "scale": {"paddingInner": 0.286, "paddingOuter": 0.443}}
  },
  "layer": [
    {"mark": {"type": "bar", "stroke": "black", "strokeWidth": 2},
     "encoding": {
       "y": {"field": "value", "type": "quantitative", "title": "relative values [% of ctrl]", "scale": {"domain": [0, 125], "range": [136, 0], "nice": false},
         "axis": {"values": [0, 25, 50, 75, 100, 125], "tickCount": 20, "offset": 100, "tickSize": 4, "tickWidth": 2, "tickColor": "black", "domainColor": "black", "domainWidth": 2, "labelFontSize": 15, "labelColor": "black", "labelPadding": 1, "titleFontSize": 16, "titleFontWeight": "normal", "titleColor": "black", "titleX": -39, "labelFlush": false}},
       "fill": {"field": "grp", "type": "nominal", "sort": ["ctrl", "20 h SorA"], "scale": {"domain": ["ctrl", "20 h SorA"], "range": ["#ffffff", "#d9d9d9"]},
         "legend": {"orient": "none", "legendX": -93, "legendY": -78.5, "title": null, "direction": "vertical", "labelFontSize": 16, "labelColor": "black", "labelOffset": 9, "rowPadding": -5, "padding": 0,
           "symbolType": "M-1,-0.38H1V0.38H-1Z", "symbolSize": 729, "symbolStrokeColor": "black", "symbolStrokeWidth": 2, "symbolOpacity": 1,
           "encode": {"symbols": {"update": {"stroke": {"value": "black"}, "strokeWidth": {"value": 2}}}}}}
     }},
    {"mark": {"type": "rule", "color": "black", "strokeWidth": 2},
     "encoding": {"y": {"field": "value", "type": "quantitative", "title": "relative values [% of ctrl]"}, "y2": {"field": "upper"}}},
    {"mark": {"type": "tick", "orient": "horizontal", "size": 9, "thickness": 2, "color": "black", "opacity": 1},
     "encoding": {"y": {"field": "upper", "type": "quantitative", "title": "relative values [% of ctrl]"}}},
    {"transform": [{"filter": "datum.star != null"}],
     "mark": {"type": "text", "text": "*", "fontSize": 20, "dy": 11, "baseline": "alphabetic", "color": "black"},
     "encoding": {"y": {"field": "star", "type": "quantitative", "title": "relative values [% of ctrl]"}}}
  ]
},
{
  "width": 274, "height": 140,
  "title": {"text": "D", "anchor": "start", "frame": "group", "dx": -75, "offset": -35, "fontSize": 16, "fontWeight": "bold", "baseline": "alphabetic", "color": "black"},
  "data": {"values": [
    {"cat": "FMI:Y", "grp": "siRNA nt", "value": 100, "upper": 122},
    {"cat": "FMI:Y", "grp": "siRNA ACC1", "value": 45, "upper": 56.4},
    {"cat": "directness", "grp": "siRNA nt", "value": 100, "upper": 106.7},
    {"cat": "directness", "grp": "siRNA ACC1", "value": 63, "upper": 69.5},
    {"cat": "acc. dist.", "grp": "siRNA nt", "value": 100, "upper": 110.4},
    {"cat": "acc. dist.", "grp": "siRNA ACC1", "value": 71.5, "upper": 77},
    {"cat": "Euclid. dist.", "grp": "siRNA nt", "value": 100, "upper": 107.6},
    {"cat": "Euclid. dist.", "grp": "siRNA ACC1", "value": 43.8, "upper": 48.2},
    {"cat": "velocity", "grp": "siRNA nt", "value": 100, "upper": 108},
    {"cat": "velocity", "grp": "siRNA ACC1", "value": 71.5, "upper": 74.7}
  ]},
  "encoding": {
    "x": {"field": "cat", "type": "nominal", "sort": ["FMI:Y", "directness", "acc. dist.", "Euclid. dist.", "velocity"], "title": null,
      "scale": {"range": [-2, 272], "paddingInner": 0, "paddingOuter": 0},
      "axis": {"labelAngle": -45, "labelAlign": "right", "labelBaseline": "middle", "labelFontSize": 16, "labelColor": "black", "labelPadding": 4, "tickSize": 6, "tickWidth": 2, "tickColor": "black", "domainColor": "black", "domainWidth": 2}},
    "xOffset": {"field": "grp", "type": "nominal", "sort": ["siRNA nt", "siRNA ACC1"], "scale": {"paddingInner": 0.286, "paddingOuter": 0.443}}
  },
  "layer": [
    {"mark": {"type": "bar", "stroke": "black", "strokeWidth": 2},
     "encoding": {
       "y": {"field": "value", "type": "quantitative", "title": "relative values [% of ctrl]", "scale": {"domain": [0, 125], "range": [140, 3], "nice": false},
         "axis": {"values": [0, 25, 50, 75, 100, 125], "tickCount": 20, "offset": 2, "tickSize": 4, "tickWidth": 2, "tickColor": "black", "domainColor": "black", "domainWidth": 2, "labelFontSize": 15, "labelColor": "black", "labelPadding": 1, "titleFontSize": 16, "titleFontWeight": "normal", "titleColor": "black", "titleX": -42, "titleY": 69, "labelFlush": false}},
       "fill": {"field": "grp", "type": "nominal", "sort": ["siRNA nt", "siRNA ACC1"], "scale": {"domain": ["siRNA nt", "siRNA ACC1"], "range": ["#ffffff", "#d9d9d9"]},
         "legend": {"orient": "none", "legendX": 2, "legendY": -74.5, "title": null, "direction": "vertical", "labelFontSize": 16, "labelColor": "black", "labelOffset": 11, "rowPadding": -5, "padding": 0,
           "symbolType": "M-1,-0.38H1V0.38H-1Z", "symbolSize": 729, "symbolStrokeColor": "black", "symbolStrokeWidth": 2, "symbolOpacity": 1,
           "encode": {"symbols": {"update": {"stroke": {"value": "black"}, "strokeWidth": {"value": 2}}}}}}
     }},
    {"mark": {"type": "rule", "color": "black", "strokeWidth": 2},
     "encoding": {"y": {"field": "value", "type": "quantitative", "title": "relative values [% of ctrl]"}, "y2": {"field": "upper"}}},
    {"mark": {"type": "tick", "orient": "horizontal", "size": 9, "thickness": 2, "color": "black", "opacity": 1},
     "encoding": {"y": {"field": "upper", "type": "quantitative", "title": "relative values [% of ctrl]"}}}
  ]
}
]
}
